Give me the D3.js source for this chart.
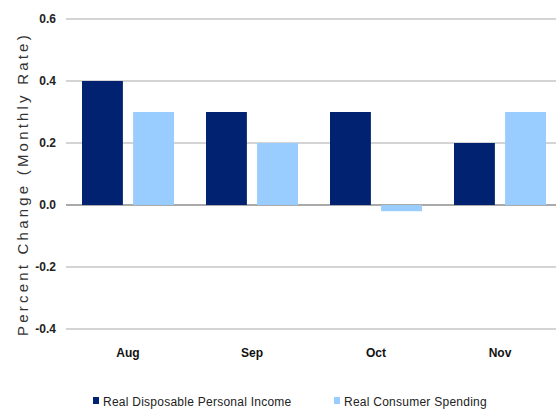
<!DOCTYPE html>
<html><head><meta charset="utf-8">
<script src="https://cdn.jsdelivr.net/npm/d3@7"></script>
<style>body{margin:0;background:#fff}svg{display:block;font-family:"Liberation Sans",Arial,sans-serif}</style>
</head><body><svg id="c" width="556" height="410"></svg>
<script>
const months = ["Aug", "Sep", "Oct", "Nov"];
const seriesNames = ["Real Disposable Personal Income", "Real Consumer Spending"];
const income = [0.4, 0.3, 0.3, 0.2];
const spending = [0.3, 0.2, -0.02, 0.3];
const yTicks = [-0.4, -0.2, 0.0, 0.2, 0.4, 0.6];
const colors = ["#002270", "#99ccff"];

const svg = d3.select("#c");
const y = d3.scaleLinear().domain([-0.4, 0.6]).range([329, 19]);
const x0 = d3.scaleBand().domain(months).range([66, 562]).paddingInner(0);
const x1 = d3.scaleBand().domain(seriesNames).range([16, 108]).paddingInner(0.2);

const fmt = d => d.toFixed(1);
const yAxis = d3.axisLeft(y).tickValues(yTicks).tickFormat(fmt).tickSize(0).tickPadding(10);
const ga = svg.append("g").attr("transform", "translate(66,0)").call(yAxis);
ga.select(".domain").remove();
ga.selectAll("text").attr("font-size", 12).attr("font-weight", "bold").attr("fill", "#222").attr("x", -10);
svg.append("g").selectAll("line").data(yTicks).join("line")
  .attr("x1", 66).attr("x2", 556).attr("y1", d => y(d)).attr("y2", d => y(d))
  .attr("stroke", d => d === 0 ? "#aaa" : "#d4d4d4").attr("stroke-width", 2);

const data = months.map((m, i) => ({m, vals: [income[i], spending[i]]}));
const g = svg.append("g");
data.forEach(d => {
  d.vals.forEach((v, j) => {
    g.append("rect")
      .attr("x", x0(d.m) + x1(seriesNames[j]))
      .attr("width", x1.bandwidth())
      .attr("y", y(Math.max(0, v)))
      .attr("height", Math.abs(y(v) - y(0)))
      .attr("fill", colors[j]);
  });
});

const xAxis = d3.axisBottom(x0).tickSize(0).tickPadding(0);
const gx = svg.append("g").attr("transform", "translate(0,351)").call(xAxis);
gx.select(".domain").remove();
gx.selectAll(".tick").attr("transform", d => `translate(${x0(d) + 62},0)`);
gx.selectAll("text").attr("font-size", 12).attr("font-weight", "bold").attr("fill", "#111").attr("dy", "0.5em");

svg.append("text").attr("transform", "translate(28,184) rotate(-90)")
  .attr("text-anchor", "middle").attr("font-size", 15).attr("fill", "#333")
  .attr("letter-spacing", "3.2px")
  .text("Percent Change (Monthly  Rate)");

const legX = [93, 334];
const lg = svg.append("g");
seriesNames.forEach((s, i) => {
  lg.append("rect").attr("x", legX[i]).attr("y", 397).attr("width", 6).attr("height", 7).attr("fill", colors[i]);
  lg.append("text").attr("x", legX[i] + 10).attr("y", 406).attr("font-size", 12).attr("letter-spacing", "0.25px").attr("fill", "#222").text(s);
});
</script></body></html>
